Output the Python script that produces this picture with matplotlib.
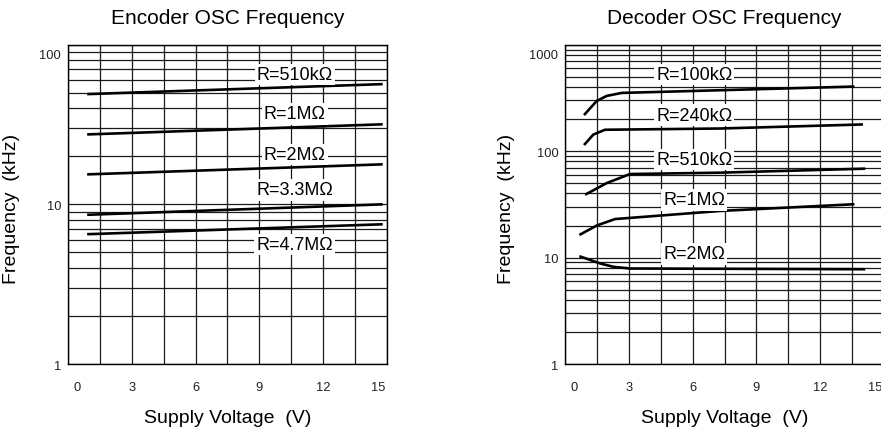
import matplotlib
matplotlib.use('Agg')
import matplotlib.pyplot as plt
from matplotlib.ticker import FixedLocator, LogLocator, NullFormatter, FixedFormatter
from matplotlib.transforms import ScaledTranslation

plt.rcParams['font.family'] = ['Liberation Sans', 'DejaVu Sans']

# --- Encoder OSC ---
enc_labels = ['R=510kΩ', 'R=1MΩ', 'R=2MΩ', 'R=3.3MΩ', 'R=4.7MΩ']
enc_v = [[0.9, 14.8], [0.9, 14.8], [0.9, 14.8], [0.9, 14.8], [0.9, 14.8]]
enc_f = [[49, 56.6], [27.4, 31.7], [15.4, 17.8], [8.6, 10.0], [6.5, 7.5]]
enc_label_y = [65, 36.8, 20.6, 12.3, 5.6]

# --- Decoder OSC ---
dec_labels = ['R=100kΩ', 'R=240kΩ', 'R=510kΩ', 'R=1MΩ', 'R=2MΩ']
dec_v = [
    [0.88, 1.48, 1.95, 2.66, 7.29, 13.62],
    [0.88, 1.32, 1.87, 7.29, 14.02],
    [0.93, 1.95, 3.05, 7.29, 14.13],
    [0.66, 1.48, 2.34, 7.29, 13.62],
    [0.66, 1.64, 2.26, 3.05, 14.13],
]
dec_f = [
    [218, 296, 330, 352, 373, 404],
    [114, 143, 158.7, 163, 178],
    [38.9, 50.1, 60.9, 62.7, 68.4],
    [16.3, 20.0, 23.0, 27.4, 31.7],
    [10.3, 8.8, 8.19, 7.89, 7.77],
]
dec_label_y = [528, 218, 83, 34.8, 10.8]

x_ticks = [0, 3, 6, 9, 12, 15]
x_grid = [1.5, 4.5, 7.5, 10.5, 13.5]


def setup_ax(ax, ymax, yticks, title, ylab_x):
    ax.set_yscale('log')
    ax.set_xlim(0, 15)
    ax.set_ylim(1, ymax)
    ax.xaxis.set_major_locator(FixedLocator(x_ticks))
    ax.xaxis.set_minor_locator(FixedLocator(x_grid))
    ax.yaxis.set_major_locator(FixedLocator(yticks))
    ax.yaxis.set_major_formatter(FixedFormatter([str(t) for t in yticks]))
    ax.yaxis.set_minor_locator(LogLocator(base=10, subs=range(2, 10)))
    ax.yaxis.set_minor_formatter(NullFormatter())
    ax.grid(True, which='both', color='#1a1a1a', linewidth=0.9)
    ax.set_axisbelow(True)
    ax.tick_params(which='both', length=0, labelsize=9.3, labelcolor='#222222', pad=12.5)
    ax.tick_params(axis='y', pad=5)
    for s in ax.spines.values():
        s.set_linewidth(1.0)
    ax.set_title(title, fontsize=15, pad=15.5)
    ax.set_xlabel('Supply Voltage  (V)', fontsize=14, labelpad=11.5)
    ax.set_ylabel('Frequency  (kHz)', fontsize=14)
    ax.yaxis.set_label_coords(ylab_x, 0.49)

    # en el original los rotulos de los extremos van un poco hacia dentro
    fig = ax.figure
    xl = ax.get_xticklabels()
    xl[0].set_transform(xl[0].get_transform() + ScaledTranslation(0.09, 0, fig.dpi_scale_trans))
    xl[-1].set_transform(xl[-1].get_transform() + ScaledTranslation(-0.09, 0, fig.dpi_scale_trans))
    yl = ax.get_yticklabels()
    yl[-1].set_transform(yl[-1].get_transform() + ScaledTranslation(0, -0.09, fig.dpi_scale_trans))


fig = plt.figure(figsize=(8.81, 4.31), dpi=100)
ax1 = fig.add_axes([0.0772, 0.1531, 0.362, 0.741])
ax2 = fig.add_axes([0.6417, 0.1531, 0.3614, 0.741])

setup_ax(ax1, 100, [1, 10, 100], 'Encoder OSC Frequency', -0.150)
setup_ax(ax2, 1000, [1, 10, 100, 1000], 'Decoder OSC Frequency', -0.158)

for v, f in zip(enc_v, enc_f):
    ax1.plot(v, f, color='black', linewidth=1.9, solid_capstyle='butt', zorder=3)
for lab, y in zip(enc_labels, enc_label_y):
    ax1.text(10.67, y, lab, fontsize=13, ha='center', va='center', zorder=4,
             bbox=dict(facecolor='white', edgecolor='none', pad=1.5))

for v, f in zip(dec_v, dec_f):
    ax2.plot(v, f, color='black', linewidth=1.9, solid_capstyle='butt', zorder=3)
for lab, y in zip(dec_labels, dec_label_y):
    ax2.text(6.07, y, lab, fontsize=13, ha='center', va='center', zorder=4,
             bbox=dict(facecolor='white', edgecolor='none', pad=1.5))

fig.savefig('out.png', dpi=100)
